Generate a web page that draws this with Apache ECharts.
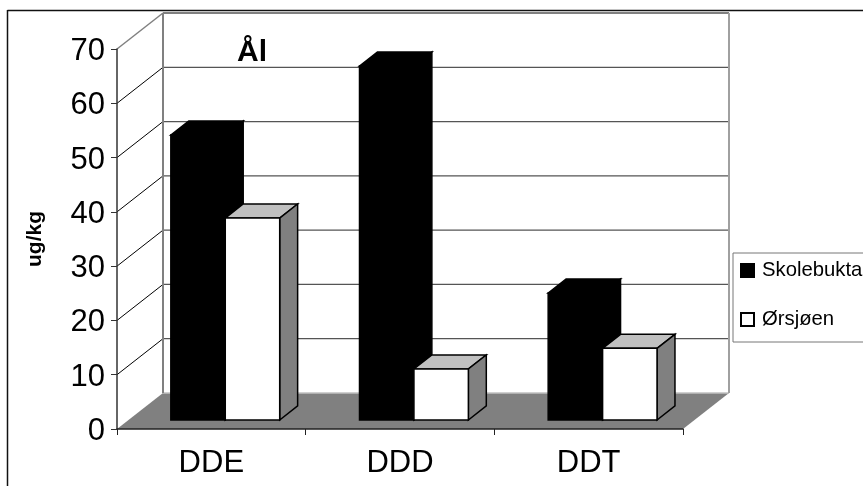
<!DOCTYPE html>
<html>
<head>
<meta charset="utf-8">
<style>html,body{margin:0;padding:0;background:#fff;overflow:hidden}#c{width:863px;height:486px}</style>
<script src="https://cdn.jsdelivr.net/npm/echarts@6/dist/echarts.min.js"></script>
</head>
<body>
<div id="c"></div>
<script>
const categories = ['DDE', 'DDD', 'DDT'];
const skolebukta = [52.5, 65.2, 23.4];
const orsjoen = [37.2, 9.4, 13.2];
const yTicks = [0, 10, 20, 30, 40, 50, 60, 70];

const FONT = '"Liberation Sans", Arial, sans-serif';
const DEPTH_X = 46, DEPTH_Y = 36;          // oblique projection of the full chart depth
const BAR_NEAR = 0.25, BAR_FAR = 0.64;     // bar depth span as a fraction of the chart depth
const BAR_W = 0.2885;                      // bar width as a fraction of a category band
const GROUP_START = -0.2756;               // left edge of a group relative to band centre

function pt(p, d) { return [p[0] + DEPTH_X * d, p[1] - DEPTH_Y * d]; }

function wallItem(params, api) {
  const v = api.value(0);
  const band = api.size([1, 0])[0];
  const c0 = api.coord([0, v]);
  const cLast = api.coord([categories.length - 1, v]);
  const a = [c0[0] - band / 2, c0[1]];
  const b = [cLast[0] + band / 2, c0[1]];
  const back = pt(a, 1), backR = pt(b, 1);
  const top = v === yTicks[yTicks.length - 1];
  const zero = v === 0;
  if (zero) {
    return { type: 'group', children: [
      { type: 'polygon', shape: { points: [a, back, backR, b] }, style: { fill: '#808080' } },
      { type: 'line', shape: { x1: back[0], y1: back[1], x2: backR[0], y2: backR[1] },
        style: { stroke: '#c0c0c0', lineWidth: 1.5 } }
    ] };
  }
  return { type: 'group', children: [
    { type: 'line', shape: { x1: a[0], y1: a[1], x2: back[0], y2: back[1] },
      style: { stroke: top ? '#808080' : '#000', lineWidth: top ? 1.5 : 1 } },
    { type: 'line', shape: { x1: back[0], y1: back[1], x2: backR[0], y2: backR[1] },
      style: { stroke: top ? '#808080' : '#555', lineWidth: top ? 2 : 1.2 } },
    ...(top ? [
      { type: 'line', shape: { x1: back[0], y1: back[1], x2: back[0], y2: pt(api.coord([0, 0]), 1)[1] },
        style: { stroke: '#808080', lineWidth: 2 } },
      { type: 'line', shape: { x1: backR[0], y1: backR[1], x2: backR[0], y2: pt(api.coord([0, 0]), 1)[1] },
        style: { stroke: '#a0a0a0', lineWidth: 2 } }
    ] : [])
  ] };
}

function barRenderer(slot, front, topFill, sideFill, stroke) {
  return function (params, api) {
    const i = api.value(0);
    const band = api.size([1, 0])[0];
    const base = api.coord([i, 0]);
    const head = api.coord([i, api.value(1)]);
    const x0 = base[0] + band * (GROUP_START + slot * BAR_W);
    const x1 = x0 + band * BAR_W;
    const bl = pt([x0, base[1]], BAR_NEAR), br = pt([x1, base[1]], BAR_NEAR);
    const tl = pt([x0, head[1]], BAR_NEAR), tr = pt([x1, head[1]], BAR_NEAR);
    const tlb = pt([x0, head[1]], BAR_FAR), trb = pt([x1, head[1]], BAR_FAR);
    const brb = pt([x1, base[1]], BAR_FAR);
    const st = { stroke, lineWidth: 1.5, lineJoin: 'miter' };
    return { type: 'group', children: [
      { type: 'polygon', shape: { points: [tl, tlb, trb, tr] }, style: { fill: topFill, ...st } },
      { type: 'polygon', shape: { points: [br, tr, trb, brb] }, style: { fill: sideFill, ...st } },
      { type: 'polygon', shape: { points: [bl, tl, tr, br] }, style: { fill: front, ...st } }
    ] };
  };
}

const chart = echarts.init(document.getElementById('c'), null, { renderer: 'canvas' });
chart.setOption({
  animation: false,
  backgroundColor: '#fff',
  textStyle: { fontFamily: FONT },
  title: {
    text: 'Ål', left: 237, top: 36, padding: 0,
    textStyle: { fontFamily: FONT, fontSize: 30, fontWeight: 'bold', color: '#000', lineHeight: 34 }
  },
  legend: {
    left: 733, top: 253, orient: 'vertical',
    padding: [6, 8, 11, 7], itemGap: 26, itemWidth: 13, itemHeight: 13,
    borderColor: '#777', borderWidth: 1, backgroundColor: '#fff',
    selectedMode: false, icon: 'rect',
    textStyle: { fontFamily: FONT, fontSize: 20.3, color: '#000', padding: [0, 0, 0, 3], lineHeight: 23 },
    data: ['Skolebukta', 'Ørsjøen']
  },
  grid: { left: 117, right: 180, top: 49, bottom: 57, containLabel: false },
  xAxis: {
    type: 'category', data: categories, boundaryGap: true,
    axisLine: { lineStyle: { color: '#222', width: 1.5 } },
    axisTick: { show: true, alignWithLabel: false, length: 6, lineStyle: { color: '#222', width: 1 } },
    axisLabel: { fontFamily: FONT, fontSize: 31, color: '#000', margin: 19 },
    z: 5
  },
  yAxis: {
    type: 'value', min: 0, max: 70, interval: 10,
    name: 'ug/kg', nameLocation: 'middle', nameGap: 71, nameRotate: 90,
    nameTextStyle: { fontFamily: FONT, fontSize: 21, fontWeight: 'bold', color: '#000' },
    axisLine: { show: true, lineStyle: { color: '#333', width: 1.5 } },
    axisTick: { show: true, length: 6, lineStyle: { color: '#333', width: 1 } },
    axisLabel: { fontFamily: FONT, fontSize: 31, color: '#000', margin: 12, verticalAlign: 'top', lineHeight: 5 },
    splitLine: { show: false },
    z: 5
  },
  graphic: [
    { type: 'line', silent: true, shape: { x1: 7.5, y1: 10.5, x2: 863, y2: 10.5 }, style: { stroke: '#111', lineWidth: 1.5 } },
    { type: 'line', silent: true, shape: { x1: 7.5, y1: 10, x2: 7.5, y2: 486 }, style: { stroke: '#111', lineWidth: 1.5 } }
  ],
  series: [
    { type: 'custom', silent: true, z: 1, renderItem: wallItem,
      data: yTicks.map(v => [v]), encode: { y: 0 } },
    { type: 'custom', name: 'Skolebukta', z: 2,
      renderItem: barRenderer(0, '#000', '#000', '#000', '#000'),
      itemStyle: { color: '#000', borderColor: '#000', borderWidth: 1 },
      data: skolebukta.map((v, i) => [i, v]), encode: { x: 0, y: 1 } },
    { type: 'custom', name: 'Ørsjøen', z: 3,
      renderItem: barRenderer(1, '#fff', '#c0c0c0', '#808080', '#000'),
      itemStyle: { color: '#fff', borderColor: '#000', borderWidth: 1.5 },
      data: orsjoen.map((v, i) => [i, v]), encode: { x: 0, y: 1 } }
  ]
});
</script>
</body>
</html>
